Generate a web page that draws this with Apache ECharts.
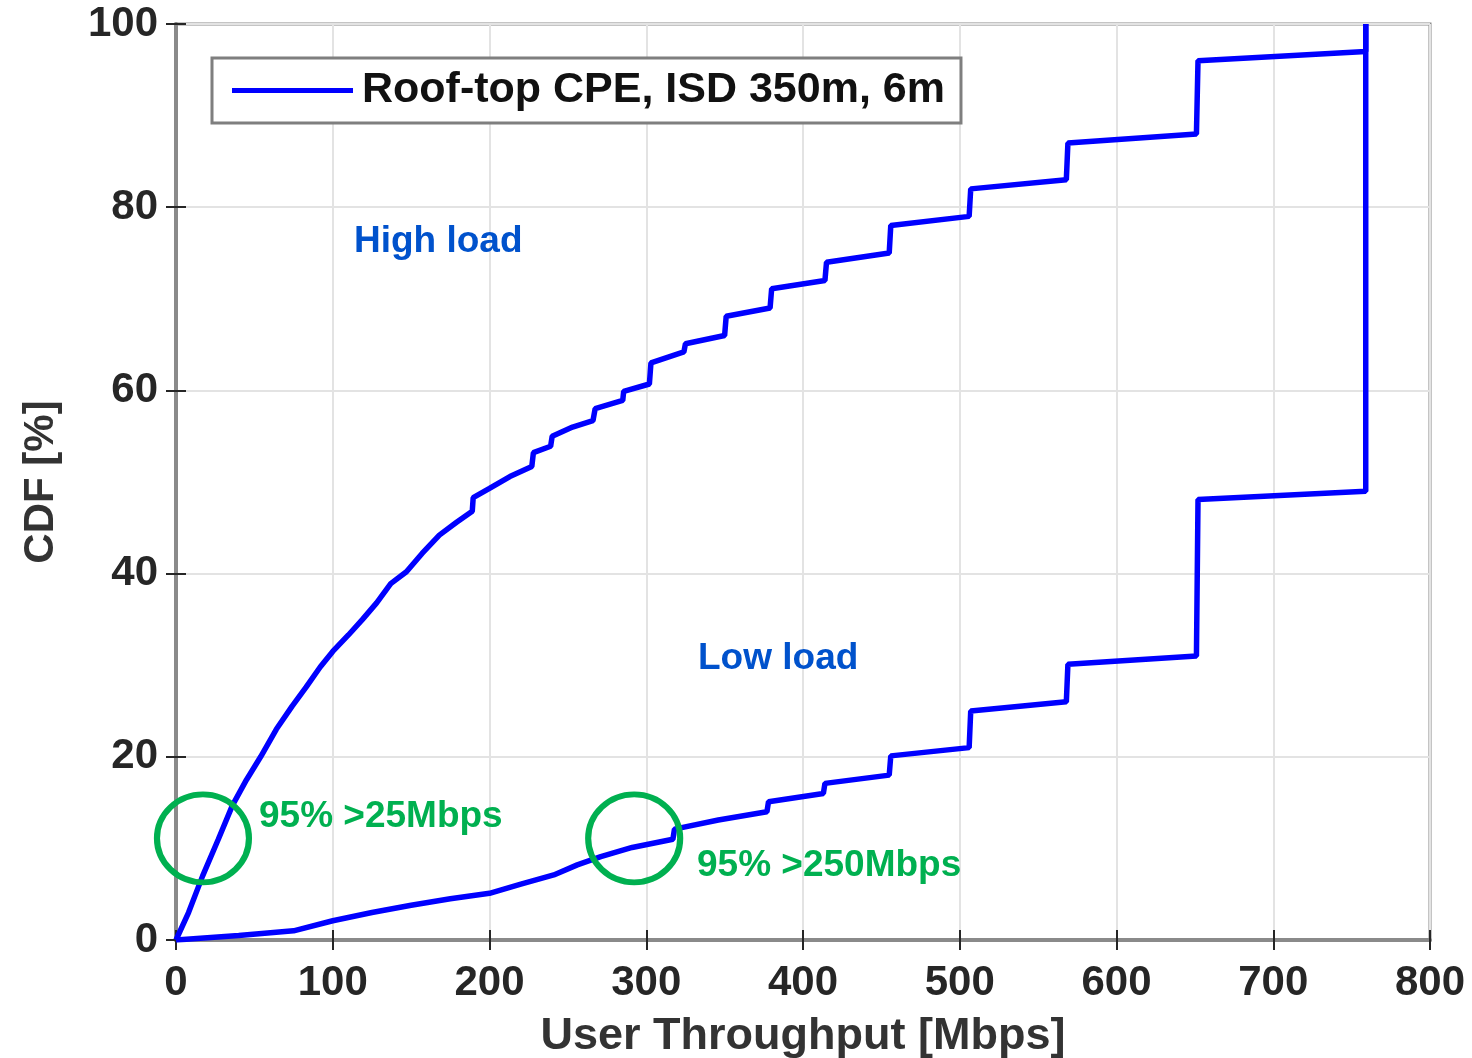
<!DOCTYPE html>
<html>
<head>
<meta charset="utf-8">
<script src="https://cdn.jsdelivr.net/npm/echarts@6/dist/echarts.min.js"></script>
<style>html,body{margin:0;padding:0;background:#fff}#c{width:1472px;height:1058px}</style>
</head>
<body>
<div id="c"></div>
<script>
const seriesName = 'Roof-top CPE, ISD 350m, 6m';
const xTicks = [0, 100, 200, 300, 400, 500, 600, 700, 800];
const yTicks = [0, 20, 40, 60, 80, 100];
const highLoad = [[0,0],[8,3],[17,7],[27,11],[36,14.7],[45,17.5],[54,20],[64,23],[74,25.5],[83,27.6],[92,29.8],[100,31.5],[110,33.3],[119,35],[128,36.8],[137,38.9],[147,40.2],[157,42.2],[168,44.2],[179,45.6],[189,46.8],[189.6,48.3],[200,49.3],[213,50.6],[227,51.7],[228,53.2],[239,53.9],[240,55.0],[253,56.0],[266,56.7],[267.4,58.0],[285,58.9],[285.6,59.9],[302,60.7],[303,63],[324,64.2],[325,65.1],[350,66],[351,68.1],[379,69],[380,71.1],[414,72],[415,74],[455,75],[456,78],[506,79],[507,82],[568,83],[569,87],[651,88],[652,96],[759,97],[759,100]];
const lowLoad = [[0,0],[40,0.5],[75,1.0],[100,2.1],[125,3.0],[150,3.8],[175,4.5],[200,5.1],[220,6.1],[241,7.1],[256,8.2],[271,9.1],[291,10.1],[317,11.0],[318,12.1],[346,13.1],[377,14.0],[378,15.1],[413,16.0],[414,17.1],[455,18.0],[456,20.1],[506,21.0],[507,25.0],[568,26.0],[569,30.1],[651,31.0],[652,48.1],[759,49.0],[759,100]];
const circleCenters = [[17.2, 11.1], [292.3, 11.1]];
const annotations = [
  {text: 'High load', x: 354, y: 242, color: '#0052cc'},
  {text: 'Low load', x: 698, y: 659, color: '#0052cc'},
  {text: '95% >25Mbps', x: 259, y: 817, color: '#00b050'},
  {text: '95% >250Mbps', x: 697, y: 866, color: '#00b050'}
];

const chart = echarts.init(document.getElementById('c'), null, {renderer: 'canvas'});
const font = 'Liberation Sans, Arial, Helvetica, sans-serif';
const tickStyle = {show: true, inside: true, length: 10, lineStyle: {color: '#262626', width: 2}};
const gridLine = {show: true, lineStyle: {color: '#e3e3e3', width: 2}};
const lineBase = {type: 'line', name: seriesName, showSymbol: false, smooth: false, silent: true,
  lineStyle: {color: '#0000ff', width: 5.5}, itemStyle: {color: '#0000ff'}, z: 3};

chart.setOption({
  animation: false,
  backgroundColor: '#ffffff',
  grid: {left: 176, right: 42, top: 24, bottom: 118, containLabel: false, outerBoundsMode: 'none',
    show: true, borderColor: '#8a8a8a', borderWidth: 3, backgroundColor: 'transparent'},
  legend: {
    show: true, left: 212, top: 58, data: [seriesName], icon: 'rect', itemWidth: 121, itemHeight: 5,
    borderColor: '#7f7f7f', borderWidth: 3, padding: [11, 16, 11, 20], backgroundColor: '#fff',
    textStyle: {fontFamily: font, fontWeight: 'bold', fontSize: 43, color: '#111', padding: [0, 0, 0, 4]},
    itemStyle: {color: '#0000ff'}
  },
  xAxis: [{
    type: 'value', min: 0, max: 800, interval: 100, position: 'bottom',
    name: 'User Throughput [Mbps]', nameLocation: 'middle', nameGap: 74,
    nameTextStyle: {fontFamily: font, fontWeight: 'bold', fontSize: 45, color: '#333'},
    axisLine: {show: true, onZero: false, lineStyle: {color: '#8a8a8a', width: 4}},
    axisTick: tickStyle, splitLine: gridLine,
    axisLabel: {fontFamily: font, fontWeight: 'bold', fontSize: 42, color: '#262626', margin: 22,
      formatter: v => xTicks.includes(v) ? String(v) : ''}
  }, {
    type: 'value', min: 0, max: 800, interval: 100, position: 'top',
    axisLine: {show: true, lineStyle: {color: '#8a8a8a', width: 3}}, axisTick: tickStyle,
    axisLabel: {show: false}, splitLine: {show: false}
  }],
  yAxis: [{
    type: 'value', min: 0, max: 100, interval: 20, position: 'left',
    name: 'CDF [%]', nameLocation: 'middle', nameGap: 114,
    nameTextStyle: {fontFamily: font, fontWeight: 'bold', fontSize: 42, color: '#333'},
    axisLine: {show: true, onZero: false, lineStyle: {color: '#8a8a8a', width: 4}},
    axisTick: tickStyle, splitLine: gridLine,
    axisLabel: {fontFamily: font, fontWeight: 'bold', fontSize: 42, color: '#262626', margin: 18,
      formatter: v => yTicks.includes(v) ? String(v) : ''}
  }, {
    type: 'value', min: 0, max: 100, interval: 20, position: 'right',
    axisLine: {show: true, lineStyle: {color: '#8a8a8a', width: 3}}, axisTick: tickStyle,
    axisLabel: {show: false}, splitLine: {show: false}
  }],
  series: [
    Object.assign({}, lineBase, {data: highLoad}),
    Object.assign({}, lineBase, {data: lowLoad,
      markPoint: {silent: true, animation: false, data: circleCenters.map(c => ({
        coord: c, symbol: 'circle', symbolSize: [92, 88],
        itemStyle: {color: 'rgba(0,0,0,0)', borderColor: '#00b050', borderWidth: 6},
        label: {show: false}
      }))}
    })
  ],
  graphic: annotations.map(a => ({
    type: 'text', left: a.x, top: a.y - 19, z: 10, silent: true,
    style: {text: a.text, fill: a.color, font: 'bold 37px ' + font}
  }))
});
</script>
</body>
</html>
